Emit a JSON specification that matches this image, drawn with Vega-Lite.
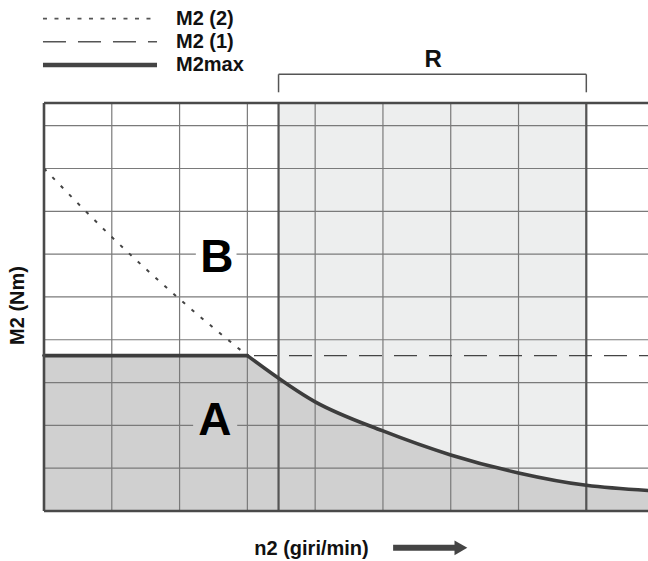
{
  "$schema": "https://vega.github.io/schema/vega-lite/v6.json",
  "width": 604,
  "height": 408,
  "padding": {"left": 44, "top": 103, "right": 0, "bottom": 50},
  "autosize": {"type": "none"},
  "background": "white",
  "config": {"view": {"stroke": null}, "font": "Liberation Sans"},
  "datasets": {
    "shade": [{"n": 3.46, "n2": 8.0, "m": 0, "m2": 9.53}],
    "m2max": [
      {"seg": "flat", "n": 0, "m": 3.63},
      {"seg": "flat", "n": 3, "m": 3.63},
      {"seg": "curve", "n": 3, "m": 3.63},
      {"seg": "curve", "n": 4.0, "m": 2.55},
      {"seg": "curve", "n": 5.0, "m": 1.87},
      {"seg": "curve", "n": 6.0, "m": 1.31},
      {"seg": "curve", "n": 7.0, "m": 0.89},
      {"seg": "curve", "n": 8.0, "m": 0.6},
      {"seg": "curve", "n": 8.91, "m": 0.48}
    ],
    "m2two": [
      {"n": 0, "m": 8.0},
      {"n": 1, "m": 6.4},
      {"n": 2, "m": 4.95},
      {"n": 3, "m": 3.63}
    ],
    "m2one": [{"n": 0, "n2": 8.91, "m": 3.63}],
    "vgrid": [{"n": 1}, {"n": 2}, {"n": 3}, {"n": 4}, {"n": 5}, {"n": 6}, {"n": 7}, {"n": 8}],
    "hgrid": [{"m": 1}, {"m": 2}, {"m": 3}, {"m": 4}, {"m": 5}, {"m": 6}, {"m": 7}, {"m": 8}, {"m": 9}],
    "rbounds": [{"n": 3.46}, {"n": 8.0}],
    "masks": [
      {"zone": "B", "n": 2.24, "n2": 2.84, "m": 5.88, "m2": 6.12},
      {"zone": "A", "n": 2.2, "n2": 2.85, "m": 1.88, "m2": 2.12}
    ],
    "letters": [
      {"t": "B", "n": 2.55, "m": 5.58},
      {"t": "A", "n": 2.52, "m": 1.78}
    ],
    "leftb": [{"n": 0}],
    "hborders": [{"m": 0}, {"m": 9.53}],
    "bracketh": [{"n": 3.46, "n2": 8.0, "m": 10.2}],
    "bracketv": [{"n": 3.46, "m": 9.78, "m2": 10.2}, {"n": 8.0, "m": 9.78, "m2": 10.2}],
    "rlabel": [{"t": "R", "n": 5.74, "m": 10.38}],
    "leg": [
      {"name": "M2 (2)", "n": -0.015, "n2": 1.667, "m": 11.5},
      {"name": "M2 (1)", "n": -0.015, "n2": 1.667, "m": 10.96},
      {"name": "M2max", "n": -0.015, "n2": 1.667, "m": 10.42}
    ],
    "arrow": [{"n": 5.15, "n2": 6.1, "m": -0.86}],
    "arrowhead": [{"n": 6.15, "m": -0.86}]
  },
  "layer": [
    {
      "data": {"name": "shade"},
      "mark": {"type": "rect", "fill": "#edeeee"},
      "encoding": {
        "x": {
          "field": "n", "type": "quantitative",
          "scale": {"domain": [0, 8.91], "nice": false, "zero": false},
          "axis": {"title": "n2 (giri/min)", "domain": false, "ticks": false, "labels": false, "grid": false,
                   "titleFontSize": 20, "titleFontWeight": "bold", "titleColor": "#111", "titleFont": "Liberation Sans",
                   "titleX": 267, "titleY": 37, "titleBaseline": "middle", "titleAlign": "center"}
        },
        "x2": {"field": "n2"},
        "y": {
          "field": "m", "type": "quantitative",
          "scale": {"domain": [0, 9.53], "nice": false, "zero": false},
          "axis": {"title": "M2 (Nm)", "domain": false, "ticks": false, "labels": false, "grid": false,
                   "titleFontSize": 20, "titleFontWeight": "bold", "titleColor": "#111", "titleFont": "Liberation Sans",
                   "titleX": -27, "titleY": 202, "titleAngle": -90, "titleBaseline": "middle", "titleAlign": "center"}
        },
        "y2": {"field": "m2"}
      }
    },
    {
      "data": {"name": "m2max"},
      "mark": {"type": "area", "interpolate": "monotone", "color": "#d0d0d0", "opacity": 1},
      "encoding": {
        "x": {"field": "n", "type": "quantitative"},
        "y": {"field": "m", "type": "quantitative", "stack": null},
        "detail": {"field": "seg"}
      }
    },
    {
      "data": {"name": "vgrid"},
      "mark": {"type": "rule", "color": "#7a7a7a", "strokeWidth": 1.2},
      "encoding": {"x": {"field": "n", "type": "quantitative"}}
    },
    {
      "data": {"name": "hgrid"},
      "mark": {"type": "rule", "color": "#7a7a7a", "strokeWidth": 1.2},
      "encoding": {"y": {"field": "m", "type": "quantitative"}}
    },
    {
      "data": {"name": "rbounds"},
      "mark": {"type": "rule", "color": "#555555", "strokeWidth": 2.2},
      "encoding": {"x": {"field": "n", "type": "quantitative"}}
    },
    {
      "data": {"name": "masks"},
      "mark": {"type": "rect", "opacity": 1},
      "encoding": {
        "x": {"field": "n", "type": "quantitative"},
        "x2": {"field": "n2"},
        "y": {"field": "m", "type": "quantitative"},
        "y2": {"field": "m2"},
        "color": {"field": "zone", "type": "nominal", "scale": {"domain": ["B", "A"], "range": ["#ffffff", "#d0d0d0"]}, "legend": null}
      }
    },
    {
      "data": {"name": "letters"},
      "mark": {"type": "text", "fontSize": 46, "fontWeight": "bold", "font": "Liberation Sans", "align": "center", "baseline": "alphabetic", "color": "#000000"},
      "encoding": {
        "x": {"field": "n", "type": "quantitative"},
        "y": {"field": "m", "type": "quantitative"},
        "text": {"field": "t"}
      }
    },
    {
      "data": {"name": "m2one"},
      "mark": {"type": "rule", "color": "#444444", "strokeWidth": 1.4, "strokeDash": [23, 12]},
      "encoding": {
        "x": {"field": "n", "type": "quantitative"},
        "x2": {"field": "n2"},
        "y": {"field": "m", "type": "quantitative"}
      }
    },
    {
      "data": {"name": "m2two"},
      "mark": {"type": "line", "interpolate": "monotone", "color": "#444444", "strokeWidth": 2, "strokeDash": [3.5, 8.5]},
      "encoding": {
        "x": {"field": "n", "type": "quantitative"},
        "y": {"field": "m", "type": "quantitative"}
      }
    },
    {
      "data": {"name": "m2max"},
      "mark": {"type": "line", "interpolate": "monotone", "color": "#3d3d3d", "strokeWidth": 3.6, "strokeCap": "round"},
      "encoding": {
        "x": {"field": "n", "type": "quantitative"},
        "y": {"field": "m", "type": "quantitative"},
        "detail": {"field": "seg"}
      }
    },
    {
      "data": {"name": "leftb"},
      "mark": {"type": "rule", "color": "#4a4a4a", "strokeWidth": 2.6},
      "encoding": {"x": {"field": "n", "type": "quantitative"}}
    },
    {
      "data": {"name": "hborders"},
      "mark": {"type": "rule", "color": "#4a4a4a", "strokeWidth": 2.6},
      "encoding": {"y": {"field": "m", "type": "quantitative"}}
    },
    {
      "data": {"name": "bracketh"},
      "mark": {"type": "rule", "color": "#555555", "strokeWidth": 1.5},
      "encoding": {
        "x": {"field": "n", "type": "quantitative"},
        "x2": {"field": "n2"},
        "y": {"field": "m", "type": "quantitative"}
      }
    },
    {
      "data": {"name": "bracketv"},
      "mark": {"type": "rule", "color": "#555555", "strokeWidth": 1.5},
      "encoding": {
        "x": {"field": "n", "type": "quantitative"},
        "y": {"field": "m", "type": "quantitative"},
        "y2": {"field": "m2"}
      }
    },
    {
      "data": {"name": "rlabel"},
      "mark": {"type": "text", "fontSize": 24, "fontWeight": "bold", "font": "Liberation Sans", "align": "center", "baseline": "alphabetic", "color": "#111111"},
      "encoding": {
        "x": {"field": "n", "type": "quantitative"},
        "y": {"field": "m", "type": "quantitative"},
        "text": {"field": "t"}
      }
    },
    {
      "data": {"name": "leg"},
      "transform": [{"filter": "datum.name === 'M2 (2)'"}],
      "mark": {"type": "rule", "color": "#555555", "strokeWidth": 1.6, "strokeDash": [4, 7.5]},
      "encoding": {
        "x": {"field": "n", "type": "quantitative"},
        "x2": {"field": "n2"},
        "y": {"field": "m", "type": "quantitative"}
      }
    },
    {
      "data": {"name": "leg"},
      "transform": [{"filter": "datum.name === 'M2 (1)'"}],
      "mark": {"type": "rule", "color": "#555555", "strokeWidth": 1.5, "strokeDash": [23, 12]},
      "encoding": {
        "x": {"field": "n", "type": "quantitative"},
        "x2": {"field": "n2"},
        "y": {"field": "m", "type": "quantitative"}
      }
    },
    {
      "data": {"name": "leg"},
      "transform": [{"filter": "datum.name === 'M2max'"}],
      "mark": {"type": "rule", "color": "#444444", "strokeWidth": 4.5},
      "encoding": {
        "x": {"field": "n", "type": "quantitative"},
        "x2": {"field": "n2"},
        "y": {"field": "m", "type": "quantitative"}
      }
    },
    {
      "data": {"name": "leg"},
      "mark": {"type": "text", "fontSize": 20, "fontWeight": "bold", "font": "Liberation Sans", "align": "left", "baseline": "middle", "color": "#111111"},
      "encoding": {
        "x": {"datum": 1.947, "type": "quantitative"},
        "y": {"field": "m", "type": "quantitative"},
        "text": {"field": "name"}
      }
    },
    {
      "data": {"name": "arrow"},
      "mark": {"type": "rule", "color": "#444444", "strokeWidth": 6},
      "encoding": {
        "x": {"field": "n", "type": "quantitative"},
        "x2": {"field": "n2"},
        "y": {"field": "m", "type": "quantitative"}
      }
    },
    {
      "data": {"name": "arrowhead"},
      "mark": {"type": "point", "shape": "triangle-right", "filled": true, "color": "#444444", "opacity": 1, "size": 220},
      "encoding": {
        "x": {"field": "n", "type": "quantitative"},
        "y": {"field": "m", "type": "quantitative"}
      }
    }
  ]
}
